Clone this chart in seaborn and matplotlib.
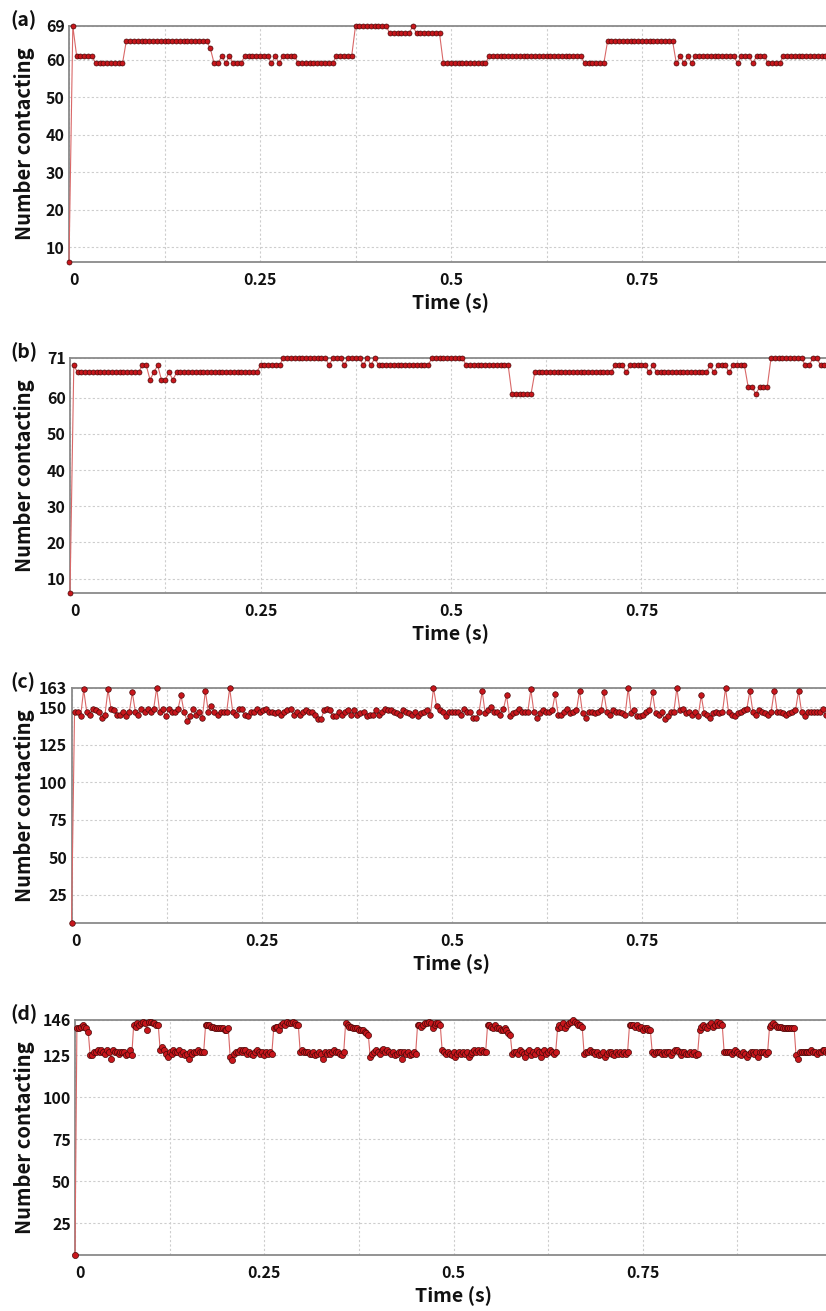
import numpy as np
import pandas as pd
import matplotlib
matplotlib.use("Agg")
import matplotlib.pyplot as plt
import seaborn as sns

sns.set_theme(style="white")
plt.rcParams["font.family"] = ["Noto Sans CJK SC", "DejaVu Sans"]

# ---------------- data ----------------
panel_labels = ["(a)", "(b)", "(c)", "(d)"]
x_tick_values = [0, 0.125, 0.25, 0.375, 0.5, 0.625, 0.75, 0.875, 1.0]
x_tick_labels = ["0", "", "0.25", "", "0.5", "", "0.75", "", "1"]

# (a) step levels and how many samples each level lasts (dt = 0.005 s)
a_levels = [6, 69, 61, 59, 65, 63, 59, 61, 59, 61, 59, 61, 59, 61, 59, 61, 59, 61, 69, 67,
            69, 67, 59, 61, 59, 65, 59, 61, 59, 61, 59, 61, 59, 61, 59, 61, 59, 61]
a_counts = [1, 1, 5, 8, 22, 1, 2, 1, 1, 1, 3, 7, 1, 1, 1, 4, 10, 5, 9, 6,
            1, 7, 12, 25, 6, 18, 1, 1, 1, 1, 1, 11, 1, 3, 1, 3, 4, 14]
a_yticks = [10, 20, 30, 40, 50, 60, 69]

# (b)
b_levels = [6, 69, 67, 69, 65, 67, 69, 65, 67, 65, 67, 69, 71, 69, 71, 69, 71, 69, 71, 69,
            71, 69, 71, 69, 61, 67, 69, 67, 69, 67, 69, 67, 69, 67, 69, 67, 69, 63, 61, 63,
            71, 69, 71, 69]
b_counts = [1, 1, 17, 2, 1, 1, 1, 2, 1, 1, 22, 6, 12, 1, 3, 1, 4, 1, 1, 1,
            1, 14, 9, 12, 6, 21, 3, 1, 5, 1, 1, 14, 1, 1, 3, 1, 4, 2, 1, 3,
            9, 2, 2, 4]
b_yticks = [10, 20, 30, 40, 50, 60, 71]

# (c) dt = 0.004 s
c_values = [
    6, 147, 147, 144, 162, 147, 145, 149, 148, 147,
    143, 145, 162, 149, 148, 145, 145, 147, 144, 147,
    160, 147, 145, 149, 147, 149, 147, 149, 163, 147,
    149, 144, 149, 147, 147, 149, 158, 147, 141, 144,
    149, 145, 147, 143, 161, 147, 151, 147, 145, 147,
    147, 147, 163, 147, 145, 149, 149, 145, 144, 147,
    147, 149, 147, 148, 149, 147, 147, 146, 147, 145,
    147, 148, 149, 145, 147, 145, 147, 148, 147, 147,
    145, 142, 142, 148, 149, 148, 144, 144, 147, 145,
    147, 148, 145, 148, 145, 146, 147, 144, 145, 145,
    148, 145, 147, 149, 148, 148, 147, 146, 145, 148,
    147, 146, 145, 147, 144, 146, 147, 148, 145, 163,
    151, 148, 147, 144, 147, 147, 147, 147, 145, 149,
    147, 147, 143, 143, 147, 161, 146, 148, 150, 147,
    147, 145, 149, 158, 144, 146, 147, 149, 147, 147,
    147, 162, 147, 143, 146, 148, 147, 147, 148, 159,
    145, 145, 147, 149, 146, 147, 148, 161, 146, 143,
    147, 147, 146, 147, 148, 160, 147, 145, 148, 147,
    147, 146, 145, 163, 146, 148, 144, 144, 145, 147,
    148, 160, 146, 145, 147, 142, 144, 147, 147, 163,
    148, 149, 146, 147, 145, 147, 144, 158, 146, 145,
    143, 146, 147, 146, 147, 163, 147, 145, 144, 146,
    147, 148, 149, 161, 147, 145, 148, 147, 146, 145,
    147, 161, 147, 147, 146, 145, 146, 147, 148, 161,
    147, 144, 147, 147, 147, 147, 147, 149, 145, 147,
    148]
c_yticks = [25, 50, 75, 100, 125, 150, 163]

# (d) dt = 0.0025 s
d_values = [
    6,
    141, 141, 142, 143, 142, 141, 139,
    125, 125, 127, 127, 128, 127, 128, 127, 126, 128, 127, 123, 128, 127, 127, 126, 127, 127, 127, 125, 126, 128, 125,
    143, 142, 144, 143, 144, 145, 144, 140, 145, 145, 144, 144, 143, 143,
    128, 130, 128, 126, 124, 127, 126, 128, 127, 127, 128, 126, 127, 125, 126, 123, 127, 126, 127, 127, 128, 127, 127, 127,
    143, 143, 143, 142, 142, 141, 141, 141, 141, 141, 140, 140, 141,
    124, 122, 126, 127, 127, 128, 127, 128, 128, 126, 127, 126, 125, 127, 128, 127, 126, 127, 125, 127, 126, 127, 126,
    141, 142, 142, 140, 143, 144, 143, 145, 144, 144, 145, 144, 143, 143,
    127, 128, 127, 127, 127, 126, 126, 127, 125, 126, 127, 126, 123, 127, 126, 127, 126, 127, 128, 127, 127, 126, 125, 127,
    144, 143, 142, 142, 141, 141, 141, 140, 140, 140, 139, 138, 137,
    124, 126, 127, 128, 127, 126, 128, 129, 127, 128, 127, 126, 127, 125, 126, 127, 127, 123, 127, 126, 127, 125, 126, 127, 126,
    143, 143, 142, 143, 144, 144, 145, 144, 141, 143, 144, 144, 143,
    128, 127, 126, 127, 126, 125, 127, 124, 126, 127, 126, 127, 126, 127, 124, 126, 127, 128, 127, 128, 127, 128, 127, 127,
    143, 143, 142, 141, 143, 141, 141, 140, 140, 141, 140, 138, 137,
    126, 127, 127, 126, 128, 127, 126, 124, 127, 128, 125, 127, 126, 128, 127, 124, 127, 128, 126, 127, 128, 127, 126, 127,
    141, 143, 142, 144, 141, 143, 144, 145, 146, 145, 144, 143, 143, 142,
    126, 127, 127, 128, 127, 127, 126, 127, 125, 126, 127, 124, 126, 127, 127, 126, 125, 127, 126, 127, 126, 127, 126, 127,
    143, 143, 143, 142, 143, 141, 142, 140, 141, 141, 140, 140,
    127, 126, 127, 127, 127, 126, 127, 126, 127, 127, 125, 127, 128, 128, 127, 125, 127, 127, 126, 126, 127, 126, 127, 125, 126,
    140, 142, 143, 142, 141, 143, 144, 142, 143, 145, 143, 144, 143,
    127, 127, 127, 127, 126, 127, 128, 127, 126, 125, 127, 126, 124, 126, 127, 127, 126, 127, 124, 127, 127, 127, 126, 127,
    142, 143, 144, 143, 142, 142, 142, 141, 141, 141, 141, 141, 141, 141,
    125, 123, 127, 127, 127, 127, 127, 127, 128, 127, 127, 126, 127, 127, 128, 128, 127, 127, 126, 127]
d_yticks = [25, 50, 75, 100, 125, 146]

series = [
    np.repeat(a_levels, a_counts),
    np.repeat(b_levels, b_counts),
    np.array(c_values),
    np.array(d_values),
]
yticks = [a_yticks, b_yticks, c_yticks, d_yticks]
y_bottom = 6

# ---------------- layout (pixels) ----------------
W, H = 826, 1311
ax_left = [69, 70, 71.5, 75]
ax_right = [833, 832, 832, 832]
ax_top = [26, 358, 688, 1020]
ax_bot = [262, 593, 923, 1255]
marker_sizes = [3.6, 3.6, 4.0, 4.4]

line_color = "#d96868"
face_color = "#c8161c"
edge_color = "#4a0808"
spine_color = "#8a8a8a"
grid_color = "#cdcdcd"
text_color = "#111111"

fig = plt.figure(figsize=(W / 100, H / 100), dpi=100)

for i in range(4):
    l, r, t, b = ax_left[i], ax_right[i], ax_top[i], ax_bot[i]
    ax = fig.add_axes([l / W, 1 - b / H, (r - l) / W, (b - t) / H])
    vals = series[i]
    df = pd.DataFrame({"Time (s)": np.linspace(0, 1, len(vals)),
                       "Number contacting": vals})
    sns.lineplot(data=df, x="Time (s)", y="Number contacting", ax=ax,
                 estimator=None, sort=False, color=line_color, linewidth=0.8,
                 marker="o", markersize=marker_sizes[i],
                 markerfacecolor=face_color, markeredgecolor=edge_color,
                 markeredgewidth=0.5, clip_on=False, zorder=3)
    ax.set_xlim(0, 1)
    ax.set_ylim(y_bottom, yticks[i][-1])
    ax.set_xticks(x_tick_values)
    ax.set_xticklabels(x_tick_labels)
    ax.set_yticks(yticks[i])
    ax.set_yticklabels([str(v) for v in yticks[i]])
    ax.set_axisbelow(True)
    ax.grid(True, color=grid_color, linestyle=(0, (2, 2)), linewidth=0.8)
    for s in ["top", "bottom", "left"]:
        ax.spines[s].set_visible(True)
        ax.spines[s].set_color(spine_color)
        ax.spines[s].set_linewidth(1.3)
    ax.spines["right"].set_visible(False)
    ax.tick_params(axis="x", length=4, color="#d4d4d4", width=0.8, pad=3,
                   labelsize=11.5, labelcolor=text_color)
    ax.tick_params(axis="y", length=0, pad=3, labelsize=11.5, labelcolor=text_color)
    for lbl in ax.get_xticklabels() + ax.get_yticklabels():
        lbl.set_fontweight("bold")
    ax.get_xticklabels()[0].set_horizontalalignment("left")

    ax.set_xlabel("Time (s)", fontsize=14, fontweight="bold", color=text_color)
    ax.set_ylabel("Number contacting", fontsize=14.5, fontweight="bold", color=text_color)
    ax.xaxis.set_label_coords(0.5, -31 / (b - t))
    ax.yaxis.set_label_coords((35 - l) / (r - l), 0.5)

    fig.text(10 / W, 1 - (t - 6) / H, panel_labels[i], fontsize=14,
             fontweight="bold", ha="left", va="center", color=text_color)

fig.savefig("out.png", dpi=100)
